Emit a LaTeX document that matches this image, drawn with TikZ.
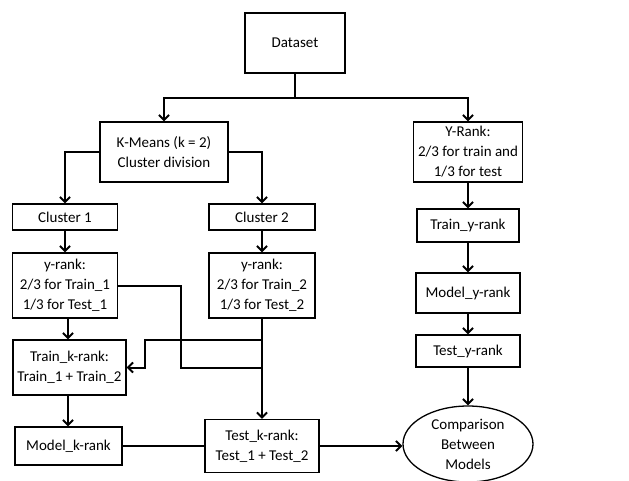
\documentclass[tikz,border=0pt]{standalone}
\usepackage{fontspec}
\setmainfont{Carlito}
\usepackage{tikz}
\usetikzlibrary{arrows.meta,shapes.geometric}

\tikzset{
  box/.style={draw, line width=1.3pt, align=center, inner sep=0pt},
  conn/.style={line width=2pt},
  arr/.style={conn, -{Straight Barb[length=5pt,width=10pt]}}
}

\begin{document}
\begin{tikzpicture}[x=1pt, y=-1pt, font=\fontsize{15}{20}\selectfont]
  \useasboundingbox (0,0) rectangle (629,480);
  % nodes
  \node [box, minimum width=100pt, minimum height=60pt] (dataset) at (295,43) {Dataset};
  \node [box, minimum width=128pt, minimum height=60pt] (kmeans) at (164,152) {K-Means (k = 2)\\Cluster division};
  \node [box, minimum width=109pt, minimum height=60pt] (yrank) at (468,152) {Y-Rank:\\2/3 for train and\\1/3 for test};
  \node [box, minimum width=105pt, minimum height=26pt] (clusterA) at (65,217) {Cluster 1};
  \node [box, minimum width=106pt, minimum height=26pt] (clusterB) at (262,217) {Cluster 2};
  \node [box, minimum width=102pt, minimum height=33pt] (trainy) at (468,225.5) {Train\_y-rank};
  \node [box, minimum width=105pt, minimum height=65pt] (yrankA) at (65,285.5) {y-rank:\\2/3 for Train\_1\\1/3 for Test\_1};
  \node [box, minimum width=106pt, minimum height=65pt] (yrankB) at (262,285.5) {y-rank:\\2/3 for Train\_2\\1/3 for Test\_2};
  \node [box, minimum width=104pt, minimum height=40pt] (modely) at (468,293) {Model\_y-rank};
  \node [box, minimum width=104pt, minimum height=32pt] (testy) at (468,351) {Test\_y-rank};
  \node [box, minimum width=113pt, minimum height=55pt] (traink) at (69.5,367.5) {Train\_k-rank:\\Train\_1 + Train\_2};
  \node [box, minimum width=107pt, minimum height=38pt] (modelk) at (68.5,446) {Model\_k-rank};
  \node [box, minimum width=114pt, minimum height=53pt] (testk) at (262,446) {Test\_k-rank:\\Test\_1 + Test\_2};
  \node [box, ellipse, minimum width=130pt, minimum height=76pt] (comp) at (468,444) {Comparison\\Between\\Models};
  \coordinate (split) at (262,340);
  \coordinate (join) at (262,367.5);
  % connectors
  \draw [conn] (dataset.south) -- ++(0,24) coordinate (fork);
  \draw [arr] (fork) -| (kmeans.north);
  \draw [arr] (fork) -| (yrank.north);
  \draw [arr] (kmeans.west) -| (clusterA.north);
  \draw [arr] (kmeans.east) -| (clusterB.north);
  \draw [arr] (clusterA.south) -- (yrankA.north);
  \draw [arr] (clusterB.south) -- (yrankB.north);
  \draw [arr] (yrank.south) -- (trainy.north);
  \draw [arr] (trainy.south) -- (modely.north);
  \draw [arr] (modely.south) -- (testy.north);
  \draw [arr] (testy.south) -- (comp.north);
  \draw [arr] ([xshift=3pt]yrankA.south) -- ([xshift=3pt]yrankA.south |- traink.north);
  \draw [arr] ([xshift=3pt]yrankA.south |- traink.south) -- ([xshift=3pt]yrankA.south |- modelk.north);
  \draw [conn] (yrankA.east) -| (181,367.5) -- (join);
  \draw [arr] (yrankB.south) -- (testk.north);
  \draw [arr] (split) -| (145,367.5) -- (traink.east);
  \draw [conn] (modelk.east) -- (testk.west);
  \draw [arr] (testk.east) -- (testk.east -| comp.west);
\end{tikzpicture}
\end{document}
